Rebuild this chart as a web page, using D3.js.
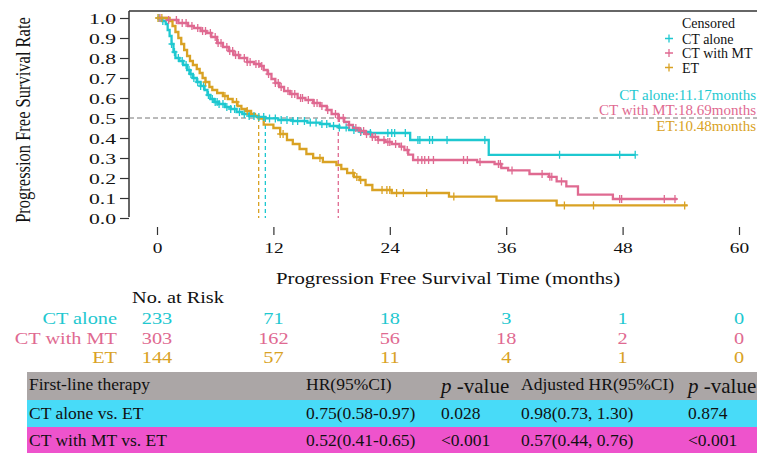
<!DOCTYPE html>
<html><head><meta charset="utf-8">
<script src="https://cdn.jsdelivr.net/npm/d3@7"></script>
<style>html,body{margin:0;padding:0;background:#fff;}svg{display:block;}</style>
</head><body>
<svg id="c" width="757" height="453"></svg>
<script>
// ---------- data ----------
const groups = ["CT alone", "CT with MT", "ET"];
const colors = ["#1EC8D0", "#DF6A91", "#D9A224"];

const ctTimes = [0,0.5,0.9,1.1,1.3,1.5,1.7,1.9,2.3,2.7,3.1,3.4,3.7,4.1,4.5,4.9,5.2,5.5,5.9,6.4,7.0,7.6,8.2,8.8,9.5,10.3,11.17,12.5,14,15.5,16.8,17.8,18.8,19.8,21,22,26.1,34.2];
const ctSurv  = [1.0,0.985,0.97,0.94,0.91,0.87,0.83,0.80,0.785,0.765,0.74,0.72,0.70,0.68,0.66,0.64,0.615,0.595,0.58,0.57,0.555,0.545,0.53,0.52,0.51,0.505,0.498,0.49,0.485,0.477,0.47,0.46,0.452,0.44,0.43,0.425,0.39,0.316];
const ctEnd = 49.3;
const ctCensor = [0.2,0.6,1.5,1.8,2.2,2.6,3.0,3.3,3.5,3.8,4.2,4.5,4.8,5.3,5.7,6.0,6.2,6.4,6.8,7.2,7.6,8.0,8.5,9.0,9.5,10.0,10.5,11.0,11.6,12.2,12.8,13.4,14.0,14.5,15.2,15.8,16.4,17.0,17.5,18.2,18.8,19.5,20.3,21.0,22.0,23.8,24.2,24.5,25.6,26.9,27.1,28.1,28.4,29.9,33.8,41.5,47.7,49.3];

const mtTimes = [0,1.0,2.2,3.2,3.8,4.5,5.1,5.6,6.2,6.8,7.4,7.9,8.5,9.3,10.0,10.6,11.0,11.4,11.8,12.2,12.6,13.1,13.7,14.5,15.3,16.1,16.8,17.5,18.0,18.69,19.3,19.8,20.2,20.8,21.5,22.2,22.8,23.5,24.2,25.0,25.5,25.9,26.4,33.0,34.8,35.5,36.2,38.4,40.4,41.2,42.2,43.4,47.0];
const mtSurv  = [1.0,0.99,0.975,0.96,0.95,0.935,0.925,0.905,0.875,0.855,0.835,0.815,0.80,0.78,0.77,0.76,0.74,0.72,0.695,0.675,0.655,0.635,0.62,0.60,0.59,0.575,0.56,0.54,0.52,0.50,0.48,0.465,0.45,0.435,0.42,0.405,0.39,0.38,0.37,0.357,0.34,0.317,0.29,0.28,0.27,0.25,0.238,0.22,0.206,0.183,0.158,0.117,0.095];
const mtEnd = 53.6;
const mtCensor = [0.3,1.2,2.0,2.6,3.0,3.6,4.2,4.7,5.0,5.5,6.0,6.3,6.6,7.2,7.5,7.8,8.1,8.4,9.0,9.3,9.6,10.2,10.5,10.8,11.5,12.2,12.5,12.8,13.5,13.9,14.2,14.8,15.0,15.6,16.2,16.5,17.0,17.6,18.4,18.8,19.2,19.8,20.5,21.0,21.3,21.6,22.2,22.5,22.8,23.4,23.8,24.0,24.6,25.2,25.8,26.9,27.3,27.6,28.0,28.5,31.6,32.0,33.3,35.2,35.4,36.6,39.7,40.5,40.7,41.7,47.7,47.9,52.3,53.4];

const etTimes = [0,1.3,1.6,1.9,2.2,2.5,2.8,3.1,3.4,3.7,4.1,4.4,4.7,5.0,5.4,5.7,6.2,6.8,7.3,7.8,8.3,8.7,9.2,9.7,10.1,10.48,11.0,12.0,12.7,13.4,14.0,14.7,15.4,16.1,17.1,18.5,19.0,19.6,20.3,20.9,21.5,22.2,24.2,30.1,35.0,41.2];
const etSurv  = [1.0,0.985,0.96,0.93,0.90,0.87,0.84,0.81,0.785,0.765,0.745,0.725,0.70,0.68,0.655,0.64,0.625,0.61,0.595,0.58,0.56,0.545,0.535,0.52,0.51,0.497,0.467,0.45,0.42,0.39,0.37,0.345,0.32,0.30,0.28,0.265,0.245,0.225,0.205,0.19,0.165,0.14,0.125,0.107,0.087,0.063];
const etEnd = 54.7;
const etCensor = [0.1,0.5,5.0,7.0,8.2,9.3,12.7,13.0,16.8,20.2,20.6,21.0,23.2,23.7,24.0,24.7,25.4,27.8,30.6,42.0,45.0,54.4];

const medians = [11.17, 18.69, 10.48];
const medianLabels = ["CT alone:11.17months", "CT with MT:18.69months", "ET:10.48months"];

const xTicks = [0, 12, 24, 36, 48, 60];
const yTicks = [0, 0.1, 0.2, 0.3, 0.4, 0.5, 0.6, 0.7, 0.8, 0.9, 1.0];
const riskCT = [233, 71, 18, 3, 1, 0];
const riskMT = [303, 162, 56, 18, 2, 0];
const riskET = [144, 57, 11, 4, 1, 0];

const tableHeader = ["First-line therapy", "HR(95%CI)", "p-value", "Adjusted HR(95%CI)", "p-value"];
const tableRow1 = ["CT alone vs. ET", "0.75(0.58-0.97)", "0.028", "0.98(0.73, 1.30)", "0.874"];
const tableRow2 = ["CT with MT vs. ET", "0.52(0.41-0.65)", "<0.001", "0.57(0.44, 0.76)", "<0.001"];
const tableColors = ["#ABA6A6", "#48DBF8", "#EE53CC"];

// ---------- drawing ----------
const FONT = "'Liberation Serif','Times New Roman',serif";
const svg = d3.select("#c");
const x = d3.scaleLinear().domain([0, 60]).range([157, 739]);
const y = d3.scaleLinear().domain([0, 1]).range([218, 18]);

function txt(g, px, py, str, o = {}) {
  return g.append("text")
    .attr("transform", `translate(${px},${py}) scale(${o.sx || 1},1)`)
    .attr("font-family", FONT)
    .attr("font-size", o.size || 16)
    .attr("text-anchor", o.anchor || "start")
    .attr("fill", o.fill || "#111")
    .text(str);
}

// frame (top + left)
svg.append("line").attr("x1", 129).attr("x2", 757).attr("y1", 11).attr("y2", 11)
  .attr("stroke", "#333").attr("stroke-width", 1.5);
svg.append("line").attr("x1", 129).attr("x2", 129).attr("y1", 11).attr("y2", 217)
  .attr("stroke", "#333").attr("stroke-width", 1.5);

// y axis
const yAx = svg.append("g").attr("transform", "translate(129,0)")
  .call(d3.axisLeft(y).tickValues(yTicks).tickFormat(d3.format(".1f")).tickSize(9));
yAx.select(".domain").remove();
yAx.selectAll(".tick line").attr("stroke", "#333").attr("stroke-width", 1.2);
yAx.selectAll(".tick text")
  .attr("x", 0).attr("dy", "0.35em")
  .attr("transform", "translate(-13,0) scale(1.4,1)")
  .attr("font-family", FONT).attr("font-size", 15.5).attr("fill", "#111");

// x axis
const xAx = svg.append("g").attr("transform", "translate(0,227)")
  .call(d3.axisBottom(x).tickValues(xTicks).tickSize(8));
xAx.select(".domain").remove();
xAx.selectAll(".tick line").attr("stroke", "#333").attr("stroke-width", 1.2);
xAx.selectAll(".tick text")
  .attr("y", 26).attr("dy", 0)
  .attr("transform", "scale(1.25,1)")
  .attr("font-family", FONT).attr("font-size", 15.5).attr("fill", "#111");

// axis titles
svg.append("text")
  .attr("transform", "translate(30,120) rotate(-90) scale(1,1.3)")
  .attr("font-family", FONT).attr("font-size", 16.5).attr("text-anchor", "middle")
  .attr("fill", "#111").text("Progression Free Survival Rate");
txt(svg, 448, 284, "Progression Free Survival Time (months)", {size: 16, anchor: "middle", sx: 1.3});

// 0.5 reference line
svg.append("line").attr("x1", 129).attr("x2", 757).attr("y1", y(0.5)).attr("y2", y(0.5))
  .attr("stroke", "#777").attr("stroke-width", 1).attr("stroke-dasharray", "5,3");

// median verticals
medians.forEach((m, i) => {
  svg.append("line").attr("x1", x(m)).attr("x2", x(m)).attr("y1", y(0.5)).attr("y2", y(0))
    .attr("stroke", colors[i]).attr("stroke-width", 1.3).attr("stroke-dasharray", "4,3");
});

// curves
const series = [
  {t: ctTimes, s: ctSurv, end: ctEnd, c: ctCensor},
  {t: mtTimes, s: mtSurv, end: mtEnd, c: mtCensor},
  {t: etTimes, s: etSurv, end: etEnd, c: etCensor}
];
const line = d3.line().x(d => x(d[0])).y(d => y(d[1])).curve(d3.curveStepAfter);
function survAt(ser, tt) {
  let v = ser.s[0];
  for (let i = 0; i < ser.t.length; i++) { if (ser.t[i] <= tt) v = ser.s[i]; }
  return v;
}
series.forEach((ser, i) => {
  const pts = ser.t.map((tt, j) => [tt, ser.s[j]]);
  pts.push([ser.end, ser.s[ser.s.length - 1]]);
  svg.append("path").attr("d", line(pts)).attr("fill", "none")
    .attr("stroke", colors[i]).attr("stroke-width", 2.3);
});
series.forEach((ser, i) => {
  const g = svg.append("g").attr("stroke", colors[i]).attr("stroke-width", 1.3);
  ser.c.forEach(tt => {
    const px = x(tt), py = y(survAt(ser, tt));
    g.append("path").attr("d", `M${px - 3},${py}H${px + 3}M${px},${py - 4}V${py + 4}`);
  });
});

// median labels
[100, 115, 131].forEach((py, i) => {
  txt(svg, 756, py, medianLabels[i], {size: 15, anchor: "end", fill: colors[i]});
});

// legend
txt(svg, 682, 28, "Censored", {size: 14});
groups.forEach((gname, i) => {
  const py = 38.5 + i * 14.5;
  svg.append("path").attr("d", `M${665},${py}H${673}M${669},${py - 4}V${py + 4}`)
    .attr("stroke", colors[i]).attr("stroke-width", 1.3);
  txt(svg, 682, py + 5, gname, {size: 14});
});

// risk table
txt(svg, 132, 303, "No. at Risk", {size: 16, sx: 1.27});
const risks = [riskCT, riskMT, riskET];
[319, 339, 358].forEach((py, i) => {
  txt(svg, 117, py + 5, groups[i], {size: 16, anchor: "end", sx: 1.27, fill: colors[i]});
  risks[i].forEach((v, j) => {
    txt(svg, x(xTicks[j]), py + 5, String(v), {size: 16, anchor: "middle", sx: 1.27, fill: colors[i]});
  });
});

// HR table
const rowsY = [[372, 400], [400, 427], [427, 453]];
rowsY.forEach((r, i) => {
  svg.append("rect").attr("x", 27).attr("y", r[0]).attr("width", 757 - 27).attr("height", r[1] - r[0])
    .attr("fill", tableColors[i]);
});
const colX = [29, 306, 441, 521, 688];
function cell(px, py, str) {
  if (str === "p-value") {
    const t = svg.append("text").attr("x", px).attr("y", py)
      .attr("font-family", FONT).attr("font-size", 21).attr("fill", "#111");
    t.append("tspan").attr("font-style", "italic").text("p");
    t.append("tspan").text(" -value");
  } else {
    svg.append("text").attr("x", px).attr("y", py)
      .attr("font-family", FONT).attr("font-size", 17.5).attr("fill", "#111").text(str);
  }
}
tableHeader.forEach((s, j) => cell(colX[j], s === "p-value" ? 393 : 390, s));
tableRow1.forEach((s, j) => cell(colX[j], 419, s));
tableRow2.forEach((s, j) => cell(colX[j], 446, s));
</script>
</body></html>
